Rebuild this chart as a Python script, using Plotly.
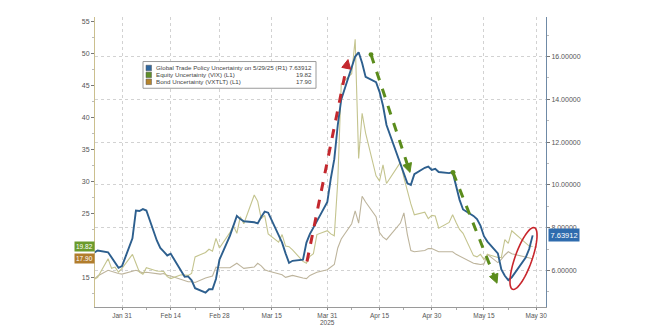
import plotly.graph_objects as go
import pandas as pd
import math

dates = ["2025-01-23","2025-01-24","2025-01-27","2025-01-28","2025-01-29","2025-01-30","2025-01-31",
         "2025-02-03","2025-02-04","2025-02-05","2025-02-06","2025-02-07","2025-02-10","2025-02-11",
         "2025-02-12","2025-02-13","2025-02-14","2025-02-17","2025-02-18","2025-02-19","2025-02-20",
         "2025-02-21","2025-02-24","2025-02-25","2025-02-26","2025-02-27","2025-02-28","2025-03-03",
         "2025-03-04","2025-03-05","2025-03-06","2025-03-07","2025-03-10","2025-03-11","2025-03-12",
         "2025-03-13","2025-03-14","2025-03-17","2025-03-18","2025-03-19","2025-03-20","2025-03-21",
         "2025-03-24","2025-03-25","2025-03-26","2025-03-27","2025-03-28","2025-03-31","2025-04-01",
         "2025-04-02","2025-04-03","2025-04-04","2025-04-07","2025-04-08","2025-04-09","2025-04-10",
         "2025-04-11","2025-04-14","2025-04-15","2025-04-16","2025-04-17","2025-04-21","2025-04-22",
         "2025-04-23","2025-04-24","2025-04-25","2025-04-28","2025-04-29","2025-04-30","2025-05-01",
         "2025-05-02","2025-05-05","2025-05-06","2025-05-07","2025-05-08","2025-05-09","2025-05-12",
         "2025-05-13","2025-05-14","2025-05-15","2025-05-16","2025-05-19","2025-05-20","2025-05-21",
         "2025-05-22","2025-05-23","2025-05-27","2025-05-28","2025-05-29"]

gtpu = [6.83,6.93,6.85,6.62,6.37,6.12,6.2,
        7.5,8.8,8.78,8.87,8.8,7.4,7.05,
        6.88,6.7,6.78,5.95,5.7,5.72,5.54,
        5.17,4.96,5.12,5.12,5.6,6.5,7.62,
        8.1,8.55,8.4,8.3,8.25,8.2,8.5,
        8.75,8.7,7.7,7.3,6.8,6.35,6.45,
        6.5,7.3,7.71,8.0,8.3,9.2,10.3,
        11.2,12.8,14.0,15.5,16.0,16.2,15.7,
        15.05,14.8,14.35,13.7,12.8,11.0,10.5,
        10.07,10.0,10.5,10.8,10.86,10.7,10.75,
        10.6,10.55,10.6,9.9,9.3,8.85,8.55,
        8.4,8.1,7.6,7.35,6.8,6.05,5.75,
        5.55,5.68,6.6,7.0,7.63912]

vix = [14.7,15.0,17.9,16.4,16.6,15.8,16.4,
       18.6,17.2,15.8,15.5,16.5,16.0,16.0,
       15.9,15.1,14.8,15.4,15.4,15.3,15.6,
       18.2,18.9,19.4,19.1,21.1,19.6,22.0,
       23.1,21.9,24.5,23.4,27.9,26.9,24.2,
       24.7,21.8,20.5,21.7,19.9,19.8,19.3,
       17.5,17.2,18.3,18.7,21.7,22.3,21.8,
       21.5,30.0,45.3,46.9,52.3,33.6,40.7,
       37.6,30.9,30.1,32.6,29.7,33.0,30.6,
       28.5,26.5,24.8,25.2,24.2,24.7,24.6,
       22.7,23.6,24.8,23.6,22.5,21.9,18.4,
       18.2,18.6,17.8,18.6,18.1,18.1,20.9,
       20.3,22.3,20.5,19.9,19.82]

vxtlt = [14.7,15.2,16.1,15.9,15.8,15.6,15.5,
         15.9,16.1,15.9,15.7,15.8,15.6,15.5,
         15.6,15.3,15.2,14.6,14.4,14.3,14.3,
         14.2,14.9,15.0,15.2,16.6,16.5,16.5,
         16.9,17.2,16.8,16.4,16.6,17.2,16.8,
         16.2,16.0,15.6,15.4,15.0,15.2,15.3,
         14.9,14.8,15.3,15.5,15.8,16.2,16.6,
         17.0,19.6,21.0,23.4,25.4,23.5,27.7,
         26.8,24.5,22.0,21.3,20.9,23.5,25.1,
         21.7,19.2,19.0,19.2,19.5,19.5,19.2,
         19.0,19.0,19.0,18.6,18.3,18.0,17.2,
         17.1,17.0,17.1,18.6,17.3,17.8,18.5,
         19.0,18.7,18.2,18.0,17.90]

x_ticks = ["2025-01-31","2025-02-14","2025-02-28","2025-03-15","2025-03-31",
           "2025-04-15","2025-04-30","2025-05-15","2025-05-30"]
x_ticklabels = ["Jan 31","Feb 14","Feb 28","Mar 15","Mar 31","Apr 15","Apr 30","May 15","May 30"]
left_ticks = [15, 25, 30, 35, 40, 45, 50, 55]
right_ticks = [6, 8, 10, 12, 14, 16]
right_ticklabels = ["6.00000","8.00000","10.00000","12.00000","14.00000","16.00000"]

legend_names = ["Global Trade Policy Uncertainty on 5/29/25 (R1)",
                "Equity Uncertainty (VIX) (L1)",
                "Bond Uncertainty (VXTLT) (L1)"]
legend_values = ["7.63912", "19.82", "17.90"]

W, H = 654, 332
L, R, T, B = 95, 546, 17, 310

BLUE = "#2d5f8e"
VIXC = "#c4c48e"
VXC = "#bdb49c"
FONT = "Liberation Sans"

fig = go.Figure()
fig.add_trace(go.Scatter(x=pd.to_datetime(dates), y=vxtlt, mode="lines", yaxis="y",
                         line=dict(color=VXC, width=1.1), name=legend_names[2]))
fig.add_trace(go.Scatter(x=pd.to_datetime(dates), y=vix, mode="lines", yaxis="y",
                         line=dict(color=VIXC, width=1.1), name=legend_names[1]))
fig.add_trace(go.Scatter(x=pd.to_datetime(dates), y=gtpu, mode="lines", yaxis="y2",
                         line=dict(color=BLUE, width=1.9), name=legend_names[0]))

def px(x, y):
    return ((x - L) / (R - L), (B - y) / (B - T))

shapes = []
annotations = []

def arrow(x0, y0, x1, y1, color, dot=False):
    dx, dy = x1 - x0, y1 - y0
    ln = math.hypot(dx, dy)
    ux, uy = dx / ln, dy / ln
    hl, hw = 9, 4.5
    bx, by = x1 - ux * hl, y1 - uy * hl
    a = px(x0, y0); b = px(bx, by)
    shapes.append(dict(type="line", xref="paper", yref="paper", x0=a[0], y0=a[1], x1=b[0], y1=b[1],
                       line=dict(color=color, width=3, dash="dash")))
    p1 = px(x1, y1)
    p2 = px(bx - uy * hw, by + ux * hw)
    p3 = px(bx + uy * hw, by - ux * hw)
    path = f"M {p1[0]} {p1[1]} L {p2[0]} {p2[1]} L {p3[0]} {p3[1]} Z"
    shapes.append(dict(type="path", xref="paper", yref="paper", path=path,
                       fillcolor=color, line=dict(color=color, width=1)))
    if dot:
        c0 = px(x0 - 2.5, y0 - 2.5); c1 = px(x0 + 2.5, y0 + 2.5)
        shapes.append(dict(type="circle", xref="paper", yref="paper", x0=c0[0], y0=c1[1], x1=c1[0], y1=c0[1],
                           fillcolor=color, line=dict(color=color, width=0)))

arrow(307, 264, 348, 60, "#c3282e")
arrow(371, 55, 410, 174, "#5b8c1c", dot=True)
arrow(453, 174, 497, 286, "#5b8c1c", dot=True)

# ellipse (red)
cx, cy = 523.5, 261
ang = math.atan2(-60, 21)
a_ax, b_ax = 33, 8.5
pts = []
for i in range(0, 61):
    t = 2 * math.pi * i / 60
    ex = a_ax * math.cos(t); ey = b_ax * math.sin(t)
    x = cx + ex * math.cos(ang) - ey * math.sin(ang)
    y = cy + ex * math.sin(ang) + ey * math.cos(ang)
    pts.append(px(x, y))
path = "M " + " L ".join(f"{p[0]:.5f} {p[1]:.5f}" for p in pts) + " Z"
shapes.append(dict(type="path", xref="paper", yref="paper", path=path,
                   line=dict(color="#c8262c", width=1.6)))

# legend box
b0 = px(143, 89); b1 = px(316, 62)
shapes.append(dict(type="rect", xref="paper", yref="paper", x0=b0[0], y0=b0[1], x1=b1[0], y1=b1[1],
                   fillcolor="white", line=dict(color="#9a9a9a", width=1)))
sq_colors = ["#3068a0", "#5f8f28", "#b5842c"]
rows_y = [68.5, 75.5, 82.5]
for i in range(3):
    s0 = px(146, rows_y[i] + 2.8); s1 = px(151.5, rows_y[i] - 2.8)
    shapes.append(dict(type="rect", xref="paper", yref="paper", x0=s0[0], y0=s0[1], x1=s1[0], y1=s1[1],
                       fillcolor=sq_colors[i], line=dict(color="#555", width=0.5)))
    p = px(154, rows_y[i])
    annotations.append(dict(xref="paper", yref="paper", x=p[0], y=p[1], text=legend_names[i],
                            showarrow=False, xanchor="left", yanchor="middle",
                            font=dict(size=6.2, color="#444", family=FONT)))
    q = px(314, rows_y[i])
    annotations.append(dict(xref="paper", yref="paper", x=q[0], y=q[1], text=legend_values[i],
                            showarrow=False, xanchor="right", yanchor="middle",
                            font=dict(size=6.2, color="#444", family=FONT)))

# value tags
annotations.append(dict(xref="paper", yref="y", x=px(95, 0)[0], y=vix[-1], text=legend_values[1],
                        showarrow=False, xanchor="right", yanchor="middle", bgcolor="#6b9b2c",
                        font=dict(size=6.5, color="white", family=FONT), borderpad=1))
annotations.append(dict(xref="paper", yref="y", x=px(95, 0)[0], y=vxtlt[-1], text=legend_values[2],
                        showarrow=False, xanchor="right", yanchor="middle", bgcolor="#b17d2d",
                        font=dict(size=6.5, color="white", family=FONT), borderpad=1))
annotations.append(dict(xref="paper", yref="y2", x=px(548, 0)[0], y=gtpu[-1], text=legend_values[0],
                        showarrow=False, xanchor="left", yanchor="middle", bgcolor="#2f6cae",
                        font=dict(size=7.5, color="white", family=FONT), borderpad=1.5))
# year label
annotations.append(dict(xref="x", yref="paper", x="2025-03-31", y=px(0, 326)[1], text="2025",
                        showarrow=False, xanchor="center", yanchor="middle",
                        font=dict(size=6.5, color="#555", family=FONT)))

fig.update_layout(
    width=W, height=H,
    margin=dict(l=L, r=W - R, t=T, b=H - B),
    paper_bgcolor="white", plot_bgcolor="white",
    showlegend=False,
    font=dict(family=FONT, size=7, color="#555"),
    shapes=shapes, annotations=annotations,
    xaxis=dict(type="date", range=["2025-01-23 05:45", "2025-06-01 20:00"],
               tickvals=pd.to_datetime(x_ticks), ticktext=x_ticklabels,
               showgrid=True, gridcolor="#d2d2d2", griddash="dot", gridwidth=1,
               showline=True, linecolor="#9a9a9a", linewidth=1,
               ticks="outside", ticklen=2, tickcolor="#888",
               tickfont=dict(size=6.5, color="#555", family=FONT),
               minor=dict(tickvals=pd.to_datetime(["2025-02-07","2025-02-21","2025-03-07","2025-03-23",
                                                   "2025-04-07","2025-04-22","2025-05-07","2025-05-22"]),
                          ticks="outside", ticklen=2, tickcolor="#aaa", showgrid=False),
               zeroline=False),
    yaxis=dict(range=[10.35, 55.78], tickvals=left_ticks, side="left",
               showgrid=False, showline=True, linecolor="#cbbf8e", linewidth=1,
               ticks="outside", ticklen=3, tickcolor="#777",
               tickfont=dict(size=7, color="#555", family=FONT),
               minor=dict(dtick=2.5, ticks="outside", ticklen=2, tickcolor="#bbb"),
               zeroline=False),
    yaxis2=dict(range=[4.29, 17.85], overlaying="y", side="right",
                tickvals=right_ticks, ticktext=right_ticklabels,
                showgrid=True, gridcolor="#d2d2d2", griddash="dot", gridwidth=1,
                showline=True, linecolor="#6f8aa6", linewidth=1,
                ticks="outside", ticklen=3, tickcolor="#777",
                tickfont=dict(size=7, color="#555", family=FONT),
                minor=dict(dtick=1, ticks="outside", ticklen=2, tickcolor="#bbb"),
                zeroline=False),
)

fig.write_html("out.html")
